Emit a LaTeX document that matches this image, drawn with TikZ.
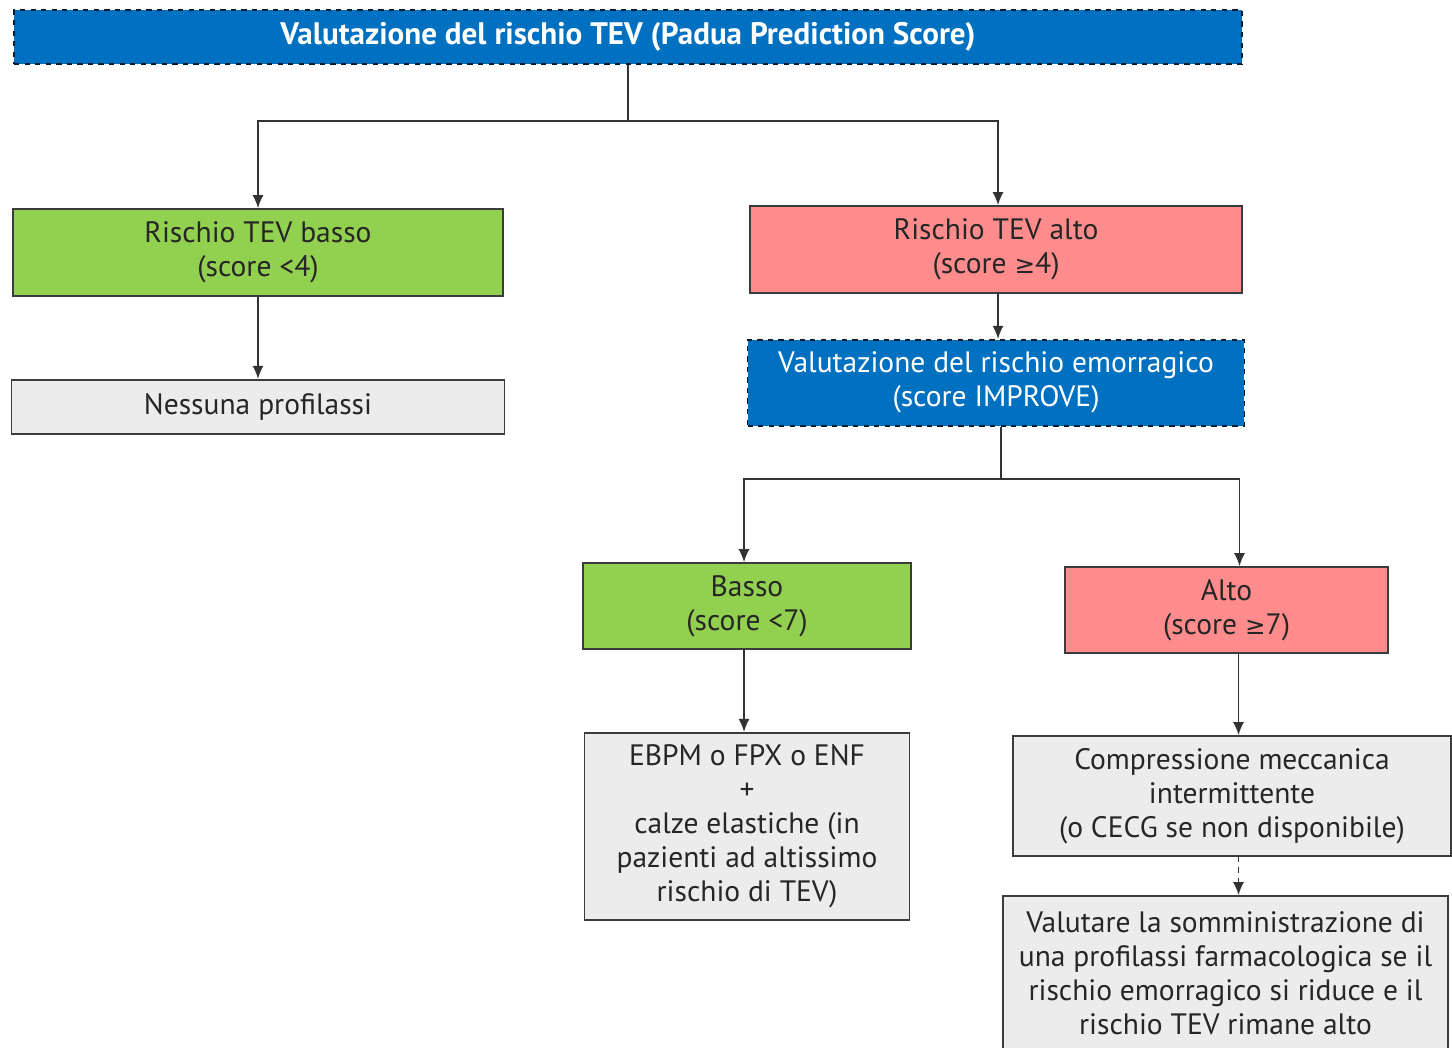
\documentclass[tikz,border=0pt]{standalone}
\usepackage{fontspec}
\setmainfont{PT Sans}
\newfontfamily\symfont{DejaVu Sans}
\usetikzlibrary{positioning,arrows.meta}

\definecolor{paduablue}{RGB}{0,112,192}
\definecolor{lowgreen}{RGB}{146,208,80}
\definecolor{highred}{RGB}{255,140,140}
\definecolor{actiongrey}{RGB}{236,236,236}
\definecolor{edgegrey}{RGB}{60,60,60}

\newcommand{\geqsign}{{\symfont\fontsize{14}{19.4}\selectfont ≥}}

\tikzstyle{assess} = [rectangle, draw=black!75!paduablue, dashed, line width=1pt, fill=paduablue, text=white, align=center, inner sep=0pt]
\tikzstyle{lowrisk} = [rectangle, draw=edgegrey, line width=1pt, fill=lowgreen, text=black!85, align=center, inner sep=0pt]
\tikzstyle{highrisk} = [rectangle, draw=edgegrey, line width=1pt, fill=highred, text=black!85, align=center, inner sep=0pt]
\tikzstyle{action} = [rectangle, draw=edgegrey, line width=1pt, fill=actiongrey, text=black!85, align=center, inner sep=0pt]
\tikzstyle{arrow} = [line width=0.8pt, draw=black!80, -{Latex[length=2.6mm,width=2.2mm]}]

\begin{document}
\begin{tikzpicture}[x=0.02cm, y=-0.02cm, font=\fontsize{16.8}{19.4}\selectfont]
	\useasboundingbox (0,0) rectangle (1452,1047);
	\clip (0,0) rectangle (1452,1047);
	% Place nodes
	\node [assess, minimum width=24.56cm, minimum height=1.08cm, font=\fontsize{17.7}{19.4}\selectfont\bfseries] (padua) at (628,37) {Valutazione del rischio TEV (Padua Prediction Score)};
	\node [lowrisk, minimum width=9.8cm, minimum height=1.74cm] (tevlow) at (258,252.5) {Rischio TEV basso\\(score <4)};
	\node [highrisk, minimum width=9.84cm, minimum height=1.74cm] (tevhigh) at (996,249.5) {Rischio TEV alto\\(score \geqsign4)};
	\node [action, below=1.64cm of tevlow, minimum width=9.86cm, minimum height=1.08cm] (noprophylaxis) {Nessuna profilassi};
	\node [assess, below=0.9cm of tevhigh, minimum width=9.94cm, minimum height=1.72cm] (improve) {Valutazione del rischio emorragico\\(score IMPROVE)};
	\node [lowrisk, minimum width=6.56cm, minimum height=1.72cm] (bleedlow) at (747,606) {Basso\\(score <7)};
	\node [highrisk, minimum width=6.46cm, minimum height=1.72cm] (bleedhigh) at (1226.5,610) {Alto\\(score \geqsign7)};
	\node [action, below=1.64cm of bleedlow, minimum width=6.5cm, minimum height=3.74cm] (pharma) {EBPM o FPX o ENF\\+\\calze elastiche (in\\pazienti ad altissimo\\rischio di TEV)};
	\node [action, minimum width=8.76cm, minimum height=2.4cm] (mechanical) at (1232,796) {Compressione meccanica\\intermittente\\(o CECG se non disponibile)};
	\node [action, minimum width=8.9cm, minimum height=3.08cm] (reassess) at (1225.5,973) {Valutare la somministrazione di\\una profilassi farmacologica se il\\rischio emorragico si riduce e il\\rischio TEV rimane alto};
	% Split points
	\coordinate (split1) at (628,121);
	\coordinate (split2) at (1001,479);
	% Draw edges
	\draw [arrow, -] (padua.south -| split1) -- (split1);
	\draw [arrow] (split1) -| (tevlow.north);
	\draw [arrow] (split1) -| ([xshift=0.04cm]tevhigh.north);
	\draw [arrow] (tevlow) -- (noprophylaxis);
	\draw [arrow] ([xshift=0.04cm]tevhigh.south) -- ([xshift=0.04cm]improve.north);
	\draw [arrow, -] (improve.south -| split2) -- (split2);
	\draw [arrow] (split2) -| ([xshift=-0.06cm]bleedlow.north);
	\draw [arrow] (split2) -| ([xshift=0.26cm]bleedhigh.north);
	\draw [arrow] ([xshift=-0.06cm]bleedlow.south) -- ([xshift=-0.06cm]bleedlow.south |- pharma.north);
	\draw [arrow] ([xshift=0.24cm]bleedhigh.south) -- ([xshift=0.24cm]bleedhigh.south |- mechanical.north);
	\draw [arrow, dashed] ([xshift=0.24cm]bleedhigh.south |- mechanical.south) -- ([xshift=0.24cm]bleedhigh.south |- reassess.north);
\end{tikzpicture}
\end{document}
